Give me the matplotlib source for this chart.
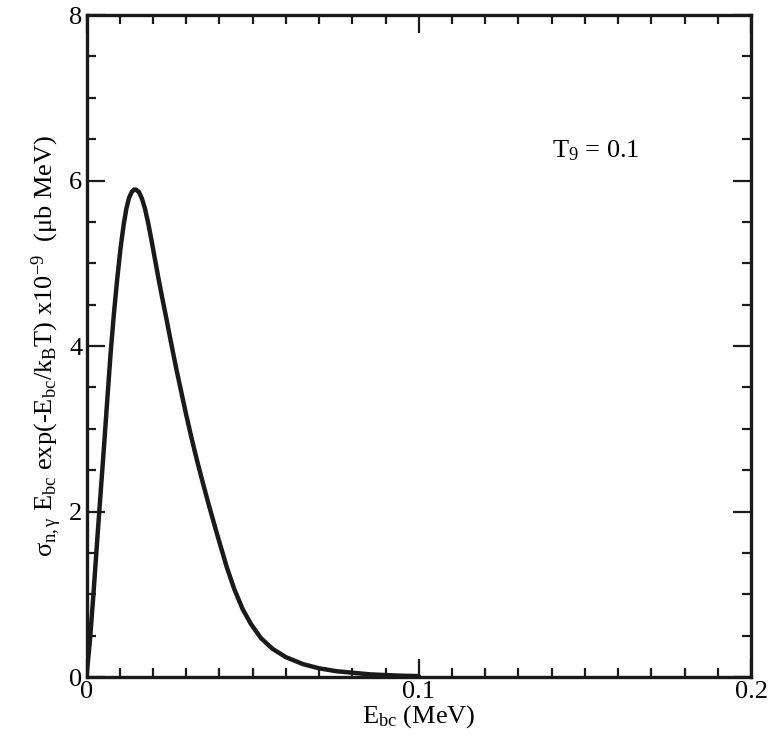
import matplotlib
matplotlib.use("Agg")
import matplotlib.pyplot as plt
from matplotlib.ticker import MultipleLocator

plt.rcParams['font.family'] = ['Liberation Serif', 'DejaVu Serif']
plt.rcParams['mathtext.fontset'] = 'custom'
plt.rcParams['mathtext.rm'] = 'Liberation Serif'
plt.rcParams['mathtext.it'] = 'Liberation Serif:italic'

# Data
energy_mev = [0.0, 0.00105, 0.00205, 0.00306, 0.00406, 0.00526, 0.00627, 0.00727,
              0.00827, 0.00927, 0.0103, 0.0112, 0.0120, 0.0128, 0.0136, 0.0143,
              0.0149, 0.0158, 0.0167, 0.0176, 0.0186, 0.0196, 0.0206, 0.0216,
              0.0228, 0.0241, 0.0255, 0.0270, 0.0286, 0.0300, 0.0316, 0.0333,
              0.0350, 0.0366, 0.0392, 0.0422, 0.0445, 0.0470, 0.0495, 0.0525,
              0.0560, 0.0600, 0.0652, 0.0700, 0.0752, 0.0853, 0.0943, 0.1]
rate_value = [0.0, 0.45, 0.98, 1.56, 2.12, 2.78, 3.36, 3.92,
              4.40, 4.82, 5.20, 5.47, 5.66, 5.79, 5.86, 5.89,
              5.89, 5.86, 5.78, 5.66, 5.48, 5.27, 5.05, 4.83,
              4.58, 4.32, 4.03, 3.73, 3.43, 3.17, 2.89, 2.61,
              2.35, 2.11, 1.74, 1.33, 1.06, 0.82, 0.64, 0.47,
              0.34, 0.24, 0.155, 0.105, 0.07, 0.032, 0.016, 0.011]
x_ticks = [0, 0.1, 0.2]
x_tick_labels = ["0", "0.1", "0.2"]
y_ticks = [0, 2, 4, 6, 8]
y_tick_labels = ["0", "2", "4", "6", "8"]
annotation = r"T$_{9}$ = 0.1"

fig = plt.figure(figsize=(7.69, 7.46), dpi=100)
ax = fig.add_axes([86.5/769, 1-677/746, (751-86.5)/769, (677-15)/746])

ax.plot(energy_mev, rate_value, color='#1a1a1a', lw=3.2,
        solid_joinstyle='round', solid_capstyle='round')

ax.set_xlim(0, 0.2)
ax.set_ylim(0, 8)
ax.set_xticks(x_ticks)
ax.set_xticklabels(x_tick_labels)
ax.set_yticks(y_ticks)
ax.set_yticklabels(y_tick_labels)
ax.xaxis.set_minor_locator(MultipleLocator(0.01))
ax.yaxis.set_minor_locator(MultipleLocator(0.5))
ax.tick_params(which='both', direction='in', top=True, right=True,
               width=1.6, color='#1a1a1a', labelsize=19, pad=3)
ax.tick_params(which='major', length=13)
ax.tick_params(which='minor', length=6.5)
for s in ax.spines.values():
    s.set_linewidth(2.4)
    s.set_color('#1a1a1a')

ax.set_xlabel(r"E$_{\mathrm{bc}}$ (MeV)", fontsize=19, labelpad=0)
ax.set_ylabel(r"$\mathrm{\sigma}_{\mathrm{n,\gamma}}$ E$_{\mathrm{bc}}$ exp(-E$_{\mathrm{bc}}$/k$_{\mathrm{B}}$T) x10$^{\mathrm{-9}}$  ($\mathrm{\mu}$b MeV)",
              fontsize=19, labelpad=4)
ax.text(0.1532, 6.36, annotation, fontsize=19, ha='center', va='center')

fig.savefig("out.png", dpi=100)
